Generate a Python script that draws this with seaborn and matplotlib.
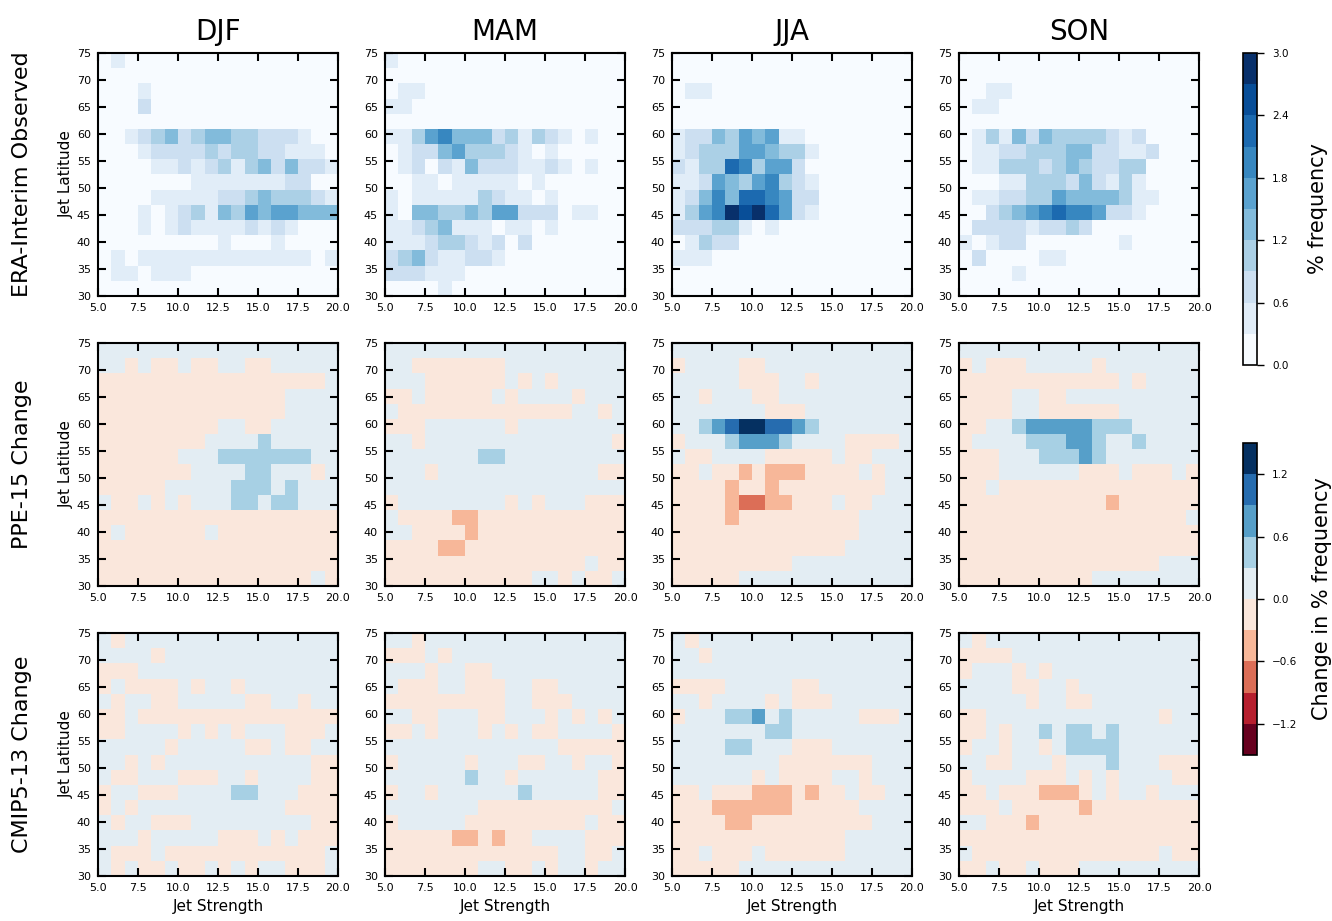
import numpy as np
import pandas as pd
import seaborn as sns
import matplotlib.pyplot as plt
from matplotlib.colors import BoundaryNorm
from matplotlib.cm import ScalarMappable

seasons = ["DJF", "MAM", "JJA", "SON"]
row_titles = ["ERA-Interim Observed", "PPE-15 Change", "CMIP5-13 Change"]
strength_ticks = [5.0, 7.5, 10.0, 12.5, 15.0, 17.5, 20.0]
latitude_ticks = [30, 35, 40, 45, 50, 55, 60, 65, 70, 75]
freq_ticks = [0.0, 0.6, 1.2, 1.8, 2.4, 3.0]
change_ticks = [-1.2, -0.6, 0.0, 0.6, 1.2]

# one string per latitude bin (75N first), one char per jet strength bin (5 -> 20)
# observed: code k = frequency bin [0.3k, 0.3k + 0.3)
# change:   code k = change bin [0.3(k-5), 0.3(k-4))
era_djf = ["010000000000000000", "000000000000000000", "000100000000000000", "000200000000000000",
           "000000000000000000", "001234234433222100", "000122223233221110", "000011212313424221",
           "000000011111112200", "000011111223433321", "000101231435455444", "000101211112121000",
           "000000000100010000", "010111111111111101", "011011100000000000", "000000000000000000"]
era_mam = ["100000000000000000", "000000000000000000", "011000000000000000", "110000000000000000",
           "000000000000000000", "113564442313210100", "012245333210100000", "012021422211210100",
           "001101111101000000", "101111132110100000", "104433435522201100", "112341110110100000",
           "111233212020000000", "234211221000000000", "222111000000000000", "000010000000000000"]
era_jja = ["000000000000000000", "000000000000000000", "011000000000000000", "000000000000000000",
           "000000000000000000", "122435451100000000", "123335543310000000", "213376355200000000",
           "112543563210000000", "124647765220000000", "135698975210000000", "222331010000000000",
           "013220000000000000", "111000000000000000", "000000000000000000", "000000000000000000"]
era_son = ["000000000000000000", "000000000000000000", "001100000000000000", "011000000000000000",
           "000000000000000000", "013142433332120000", "011223334422112000", "011333234322330000",
           "000113332421310000", "011223354444311000", "002345676652210000", "022221223200000000",
           "101220000000100000", "020000110000000000", "000010000000000000", "000000000000000000"]

ppe_djf = ["555555555555555555", "554544544554455555", "444444444444444445", "444444444444445555",
           "444444444444445555", "444444444554455555", "444444445555655555", "444444555666666655",
           "444444455556655545", "444445555566656555", "544545455566566555", "444444444444444444",
           "454444445444444444", "444444444444444444", "444444444444444444", "444444444444444454"]
ppe_mam = ["555555555555555555", "554444444555555555", "555444444545455555", "445444445455554555",
           "544444444444445545", "444555555455555555", "554555555555555554", "555555566555555555",
           "555455555555555544", "555555555555555555", "455555555454555444", "544443344444444444",
           "554444344444444444", "444433444444444444", "444444444444444544", "444444444445545445"]
ppe_jja = ["555555555555555555", "455554455555555555", "555554445545555555", "554555445555555555",
           "555555544455555555", "556789988765555555", "455567776555544445", "544555544444544555",
           "445443433344445455", "444434434444444455", "444432233444544555", "444434444444445555",
           "444444444444445555", "444444444444455555", "444444444555555555", "444445555555555555"]
ppe_son = ["555555555555555555", "454445555545555555", "444444444444545555", "444455445555555555",
           "444455444444555555", "445567777766655555", "455556667765565555", "444555666765555555",
           "444555555444544454", "445444444444444444", "444444444443444444", "444444444444444445",
           "444444444444444444", "444444444444444444", "444444444444444555", "444444444455555555"]

cmip_djf = ["545555555555555555", "555545555555555555", "444555555555555555", "454444545545555555",
            "545544555554455455", "445444444444444444", "445555454545554445", "555554555554454455",
            "554545555555555544", "544555444554555544", "455444555566555444", "454555555555554444",
            "545544455555555544", "555455555444545444", "544454444444444445", "545445445454554445"]
cmip_mam = ["554555555555555555", "444545555555555555", "555455445555555555", "544455444554455555",
            "444444444554445555", "554455544555454545", "445455545454455554", "555555555555544444",
            "455555455544554554", "555555655455555544", "455455555565555544", "555555544444444445",
            "455555444444444544", "444443343445555444", "444444444444455445", "444444455445455455"]
cmip_jja = ["545555555555555555", "554555555555555555", "555555555555555555", "444455555445555555",
            "554555545444555555", "455566756555554445", "555555566555555555", "555566555444555555",
            "555555554444444555", "555555454444554555", "445444333434454455", "444333333444445555",
            "444433444444444555", "444444444444455555", "445444544444455555", "444445555555555555"]
cmip_son = ["545555555555555555", "444455555555555555", "455545455555555555", "555544554555555555",
            "555554554455555555", "445555555555555455", "445455656656555555", "455455456666555555",
            "554455545556555444", "455554445454555544", "445444333454554555", "444544444344444444",
            "554443444444444444", "444444444444444444", "544444444444444544", "445445444555555555"]

panels = [[era_djf, era_mam, era_jja, era_son],
          [ppe_djf, ppe_mam, ppe_jja, ppe_son],
          [cmip_djf, cmip_mam, cmip_jja, cmip_son]]


def decode(rows, offset):
    arr = np.array([[int(ch) for ch in r] for r in rows], dtype=float)
    return pd.DataFrame((arr - offset + 0.5) * 0.3)


sns.set_style("ticks")
plt.rcParams['font.family'] = ['DejaVu Sans']
plt.rcParams['axes.axisbelow'] = False
for key in ['text.color', 'axes.labelcolor', 'xtick.color', 'ytick.color']:
    plt.rcParams[key] = 'black'

freq_cmap = plt.get_cmap("Blues")
freq_norm = BoundaryNorm(np.linspace(0, 3.0, 11), freq_cmap.N)
chg_cmap = plt.get_cmap("RdBu")
chg_norm = BoundaryNorm(np.linspace(-1.5, 1.5, 11), chg_cmap.N)

W, H = 1332, 921
fig = plt.figure(figsize=(W / 100, H / 100), dpi=100)

col_left = [98, 385, 672, 959]
row_top = [53, 343, 633]
pw, ph = 240, 243

nx, ny = 18, 16
for i in range(3):
    for j in range(4):
        ax = fig.add_axes([col_left[j] / W, 1 - (row_top[i] + ph) / H, pw / W, ph / H])
        if i == 0:
            df = decode(panels[i][j], 0)
            cmap, norm = freq_cmap, freq_norm
        else:
            df = decode(panels[i][j], 5)
            cmap, norm = chg_cmap, chg_norm
        sns.heatmap(df, ax=ax, cmap=cmap, norm=norm, cbar=False,
                    xticklabels=False, yticklabels=False)
        ax.set_axisbelow(False)
        ax.set_xticks([(v - 5) * nx / 15 for v in strength_ticks])
        ax.set_xticklabels([f"{v:.1f}" for v in strength_ticks])
        ax.set_yticks([(75 - v) * ny / 45 for v in latitude_ticks])
        ax.set_yticklabels([str(v) for v in latitude_ticks], rotation=0)
        ax.tick_params(direction='in', length=6, width=1.5, top=True, right=True,
                       labelsize=8, pad=5, colors='black')
        for sp in ax.spines.values():
            sp.set_visible(True)
            sp.set_linewidth(1.5)
            sp.set_color('black')
        if i == 0:
            ax.set_title(seasons[j], fontsize=20, pad=9)
        if j == 0:
            ax.set_ylabel("Jet Latitude", fontsize=11, labelpad=2)
        if i == 2:
            ax.set_xlabel("Jet Strength", fontsize=11, labelpad=4)

for i, t in enumerate(row_titles):
    yc = row_top[i] + ph / 2
    fig.text(22 / W, 1 - yc / H, t, rotation=90, ha='center', va='center', fontsize=16)

cax1 = fig.add_axes([1243 / W, 1 - 365 / H, 14 / W, 312 / H])
cb1 = fig.colorbar(ScalarMappable(norm=freq_norm, cmap=freq_cmap), cax=cax1, ticks=freq_ticks)
cb1.ax.set_yticklabels([f"{v:.1f}" for v in freq_ticks])
cb1.set_label("% frequency", fontsize=15, labelpad=14)

cax2 = fig.add_axes([1243 / W, 1 - 755 / H, 14 / W, 312 / H])
cb2 = fig.colorbar(ScalarMappable(norm=chg_norm, cmap=chg_cmap), cax=cax2, ticks=change_ticks)
cb2.ax.set_yticklabels([f"{v:.1f}".replace("-", "\u2212") for v in change_ticks])
cb2.set_label("Change in % frequency", fontsize=15, labelpad=10)
for cb in (cb1, cb2):
    cb.minorticks_off()
    cb.ax.tick_params(labelsize=7.5, length=5, width=1, pad=6)
    cb.outline.set_linewidth(1.2)
    cb.outline.set_edgecolor('black')

fig.savefig("out.png", dpi=100)
